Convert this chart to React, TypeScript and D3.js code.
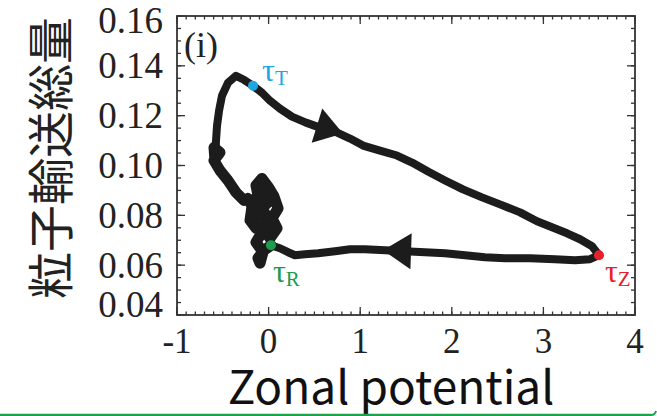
import React from "react";
import * as d3 from "d3";

const W = 657;
const H = 416;

const xTicks = [-1, 0, 1, 2, 3, 4];
const xTickLabels = ["-1", "0", "1", "2", "3", "4"];
const yTicks = [0.04, 0.06, 0.08, 0.1, 0.12, 0.14, 0.16];
const yTickLabels = ["0.04", "0.06", "0.08", "0.10", "0.12", "0.14", "0.16"];

// main loop: left rise -> peak -> tau_T -> tau_Z -> return -> tau_R
const pathX = [
  -0.585, -0.574, -0.563, -0.541, -0.509, -0.443, -0.356, -0.269, -0.17, -0.072,
  0.015, 0.124, 0.255, 0.408, 0.561, 0.725, 0.889, 1.031, 1.216, 1.402,
  1.566, 1.74, 1.926, 2.122, 2.33, 2.526, 2.745, 2.93, 3.094, 3.258,
  3.4, 3.531, 3.607, 3.509, 3.345, 3.127, 2.854, 2.581, 2.362, 2.144,
  1.926, 1.707, 1.489, 1.271, 1.052, 0.889, 0.725, 0.539, 0.397, 0.288,
  0.212, 0.124, 0.026,
];
const pathY = [
  0.102, 0.11, 0.116, 0.122, 0.128, 0.1332, 0.136, 0.1344, 0.132, 0.1292,
  0.126, 0.1228, 0.1196, 0.1172, 0.1152, 0.1136, 0.1108, 0.108, 0.106, 0.104,
  0.1012, 0.0976, 0.094, 0.0904, 0.0872, 0.0844, 0.0812, 0.0776, 0.0752, 0.0728,
  0.0704, 0.0676, 0.064, 0.0624, 0.062, 0.0624, 0.0628, 0.0628, 0.0632, 0.064,
  0.0648, 0.0652, 0.0656, 0.066, 0.0664, 0.0664, 0.0656, 0.0648, 0.0644, 0.064,
  0.0652, 0.0668, 0.068,
];
// erratic wandering after tau_R, back to the left rise
const tangleX = [
  0.026, -0.05, -0.116, -0.094, -0.061, -0.138, -0.072, -0.159, -0.094, -0.181, -0.116,
  -0.138, -0.072, -0.007, 0.059, 0.103, 0.037, 0.092, 0.015, -0.05, -0.007,
  -0.072, 0.015, -0.028, -0.116, -0.181, -0.138, -0.203, -0.181, -0.225,
  -0.269, -0.356, -0.443, -0.531, -0.596, -0.531, -0.596, -0.585,
];
const tangleY = [
  0.068, 0.066, 0.0628, 0.0608, 0.0652, 0.0692, 0.0732, 0.0772, 0.0812, 0.084, 0.088,
  0.092, 0.0948, 0.0916, 0.0876, 0.0828, 0.0788, 0.0748, 0.0708, 0.074, 0.0788,
  0.0828, 0.086, 0.09, 0.086, 0.0804, 0.0748, 0.078, 0.0836, 0.0868,
  0.086, 0.0892, 0.094, 0.098, 0.102, 0.1052, 0.1072, 0.102,
];

// arrow heads: tip and base-centre in data units
const arrowTipX = [0.812, 1.249];
const arrowTipY = [0.1128, 0.066];
const arrowBaseX = [0.528, 1.555];
const arrowBaseY = [0.116, 0.0656];

// special moments
const markerNames = ["T", "R", "Z"];
const markerX = [-0.17, 0.026, 3.607];
const markerY = [0.132, 0.068, 0.064];
const markerColors = ["#1ea7e4", "#1a9e4c", "#e8202a"];
const labelDx = [9, 2, 6];
const labelDy = [-5, 37, 27];

const serif = "'Liberation Serif', 'Times New Roman', serif";
const cjk = "'Noto Sans CJK JP', 'Noto Sans', sans-serif";

export default function App() {
  const left = 177, right = 635, top = 16, bottom = 315;
  const x = d3.scaleLinear().domain([-1, 4]).range([left, right]);
  const y = d3.scaleLinear().domain([0.04, 0.16]).range([bottom, top]);

  const pts: [number, number][] = pathX.map((v, i) => [v, pathY[i]]);
  const tpts: [number, number][] = tangleX.map((v, i) => [v, tangleY[i]]);
  const line = d3
    .line<[number, number]>()
    .x((d) => x(d[0]))
    .y((d) => y(d[1]))
    .curve(d3.curveLinear);

  const xMinor = d3.range(-1, 4.0001, 0.1);
  const yMinor = d3.range(0.04, 0.16001, 0.005);
  const tickColor = "#333";
  const ink = "#1c1c1c";

  const arrows = arrowTipX.map((_, i) => {
    const tx = x(arrowTipX[i]), ty = y(arrowTipY[i]);
    const bx = x(arrowBaseX[i]), by = y(arrowBaseY[i]);
    const dx = tx - bx, dy = ty - by;
    const len = Math.hypot(dx, dy);
    const nx = -dy / len, ny = dx / len;
    const hw = 18;
    return `M${tx},${ty}L${bx + nx * hw},${by + ny * hw}L${bx - nx * hw},${by - ny * hw}Z`;
  });

  return (
    <svg
      width={W}
      height={H}
      viewBox={`0 0 ${W} ${H}`}
      style={{ position: "absolute", left: 0, top: 0, background: "#fff" }}
    >
      <rect x={0} y={0} width={W} height={H} fill="#fff" />
      <g stroke={tickColor} strokeWidth={1.3}>
        {xMinor.map((v, i) => (
          <g key={"xm" + i}>
            <line x1={x(v)} x2={x(v)} y1={bottom} y2={bottom - 3.5} />
            <line x1={x(v)} x2={x(v)} y1={top} y2={top + 3.5} />
          </g>
        ))}
        {yMinor.map((v, i) => (
          <g key={"ym" + i}>
            <line x1={left} x2={left + 4} y1={y(v)} y2={y(v)} />
            <line x1={right} x2={right - 4} y1={y(v)} y2={y(v)} />
          </g>
        ))}
        {xTicks.map((v, i) => (
          <g key={"xM" + i}>
            <line x1={x(v)} x2={x(v)} y1={bottom} y2={bottom - 8} />
            <line x1={x(v)} x2={x(v)} y1={top} y2={top + 8} />
          </g>
        ))}
        {yTicks.map((v, i) => (
          <g key={"yM" + i}>
            <line x1={left} x2={left + 8} y1={y(v)} y2={y(v)} />
            <line x1={right} x2={right - 8} y1={y(v)} y2={y(v)} />
          </g>
        ))}
      </g>
      <rect
        x={left}
        y={top}
        width={right - left}
        height={bottom - top}
        fill="none"
        stroke={tickColor}
        strokeWidth={1.8}
      />
      {xTicks.map((v, i) => (
        <text
          key={"xl" + i}
          x={x(v)}
          y={353}
          textAnchor="middle"
          fontFamily={serif}
          fontSize={35}
          fill="#222"
        >
          {xTickLabels[i]}
        </text>
      ))}
      {yTicks.map((v, i) => {
        const cy = Math.min(Math.max(y(v), top + 4), bottom - 11);
        return (
          <text
            key={"yl" + i}
            x={163}
            y={cy + 12.5}
            textAnchor="end"
            fontFamily={serif}
            fontSize={37}
            fill="#222"
          >
            {yTickLabels[i]}
          </text>
        );
      })}
      <path
        d={line(pts) || ""}
        fill="none"
        stroke={ink}
        strokeWidth={8}
        strokeLinejoin="round"
        strokeLinecap="round"
      />
      <path
        d={line(tpts) || ""}
        fill="none"
        stroke={ink}
        strokeWidth={11}
        strokeLinejoin="round"
        strokeLinecap="round"
      />
      {arrows.map((d, i) => (
        <path key={"ar" + i} d={d} fill={ink} />
      ))}
      {markerX.map((v, i) => (
        <g key={"mk" + i}>
          <circle cx={x(v)} cy={y(markerY[i])} r={5} fill={markerColors[i]} />
          <text
            x={x(v) + labelDx[i]}
            y={y(markerY[i]) + labelDy[i]}
            fontFamily={serif}
            fontSize={32}
            fill={markerColors[i]}
          >
            τ
            <tspan fontSize={21} dy={4}>
              {markerNames[i]}
            </tspan>
          </text>
        </g>
      ))}
      <text x={184} y={57} fontFamily={serif} fontSize={36} fill="#222">
        (i)
      </text>
      <text
        x={391}
        y={404}
        textAnchor="middle"
        fontFamily={cjk}
        fontSize={46}
        fill="#111"
      >
        Zonal potential
      </text>
      <text
        transform="translate(47,158) rotate(-90)"
        textAnchor="middle"
        dominantBaseline="central"
        fontFamily={cjk}
        fontSize={47}
        fill="#222"
      >
        粒子輸送総量
      </text>
      <line x1={0} x2={651} y1={415} y2={415} stroke="#1aa34a" strokeWidth={2.5} />
      <path d="M651,415 Q655,415 656,411" fill="none" stroke="#1aa34a" strokeWidth={2} />
    </svg>
  );
}
